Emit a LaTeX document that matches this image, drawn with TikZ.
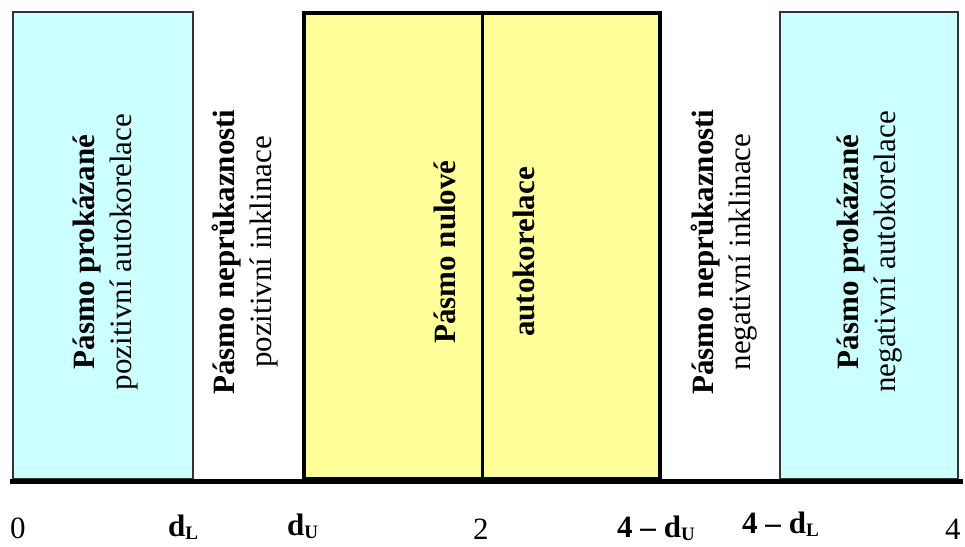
\documentclass[tikz,border=0pt]{standalone}
\usepackage{fontspec}
\setmainfont{Liberation Serif}
\definecolor{bandcyan}{HTML}{CCFFFF}
\definecolor{bandyellow}{HTML}{FFFF99}
\newcommand{\dsub}[1]{\textbf{d}\raisebox{-3pt}{\fontsize{19}{19}\selectfont\textbf{#1}}}
\tikzset{
  bandtext/.style={rotate=90, align=center, inner sep=0pt},
  axislabel/.style={anchor=base west, inner sep=0pt}
}
\begin{document}
\begin{tikzpicture}[x=1pt, y=-1pt, font=\fontsize{31}{37}\selectfont]
	\useasboundingbox (0,0) rectangle (965,546);
	
	% Left band
	\draw[black!80, line width=1.6pt, fill=bandcyan] (13,12) rectangle (193,479);
	\node[bandtext] (posaut) at (106,252) {\textbf{Pásmo prokázané}\\pozitivní autokorelace};
	
	% Left gap
	\node[bandtext] (posinkl) at (245,252) {\textbf{Pásmo neprůkaznosti}\\pozitivní inklinace};
	
	% Middle band
	\draw[black, line width=3.5pt, fill=bandyellow] (304,13) rectangle (660,479);
	\draw[black, line width=3pt] (482,13) -- (482,479);
	\node[bandtext, font=\fontsize{31}{37}\selectfont\bfseries] (nulove) at (445,252) {Pásmo nulové};
	\node[bandtext, font=\fontsize{31}{37}\selectfont\bfseries] (nulaut) at (524,252) {autokorelace};
	
	% Right gap
	\node[bandtext] (neginkl) at (724,252) {\textbf{Pásmo neprůkaznosti}\\negativní inklinace};
	
	% Right band
	\draw[black!80, line width=1.6pt, fill=bandcyan] (780,12) rectangle (958,479);
	\node[bandtext] (negaut) at (870,252) {\textbf{Pásmo prokázané}\\negativní autokorelace};
	
	% Axis
	\draw[black, line width=4.5pt] (10,481.5) -- (963,481.5);
	
	% Labels
	\node[axislabel] (l0) at (10,538) {0};
	\node[axislabel] (ldl) at (168,536) {\dsub{L}};
	\node[axislabel] (ldu) at (287,535) {\dsub{U}};
	\node[axislabel] (l2) at (473,539) {2};
	\node[axislabel] (l4du) at (617,537) {\textbf{4 – }\dsub{U}};
	\node[axislabel] (l4dl) at (742,533) {\textbf{4 – }\dsub{L}};
	\node[axislabel] (l4) at (945,539) {4};
	
\end{tikzpicture}
\end{document}
